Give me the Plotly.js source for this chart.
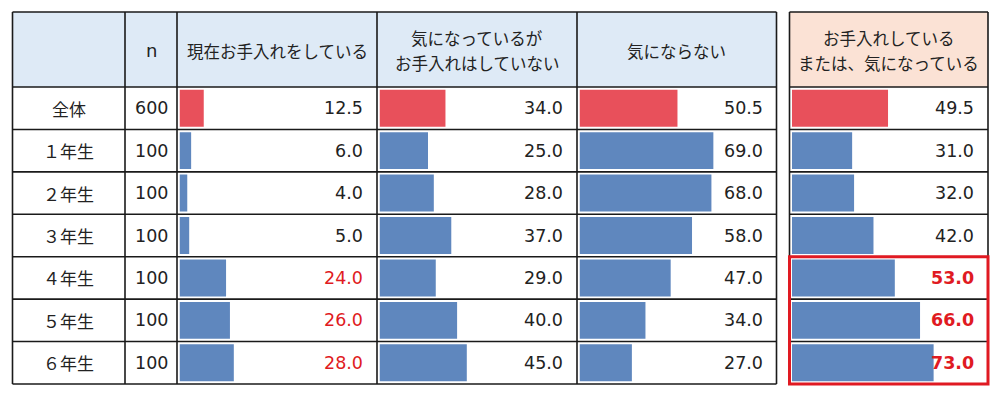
<!DOCTYPE html>
<html>
<head>
<meta charset="utf-8">
<script src="https://cdn.plot.ly/plotly-3.0.1.min.js"></script>
<style>html,body{margin:0;padding:0;background:#fff;}#chart{width:1000px;height:395px;}</style>
</head>
<body>
<div id="chart"></div>
<script>
// ---- data ----
const rowLabels = ["全体", "１年生", "２年生", "３年生", "４年生", "５年生", "６年生"];
const nValues = [600, 100, 100, 100, 100, 100, 100];
const headerN = ["n"];
const headerCol1 = ["現在お手入れをしている"];
const headerCol2 = ["気になっているが", "お手入れはしていない"];
const headerCol3 = ["気にならない"];
const headerCol4 = ["お手入れしている", "または、気になっている"];
const currentCare = [12.5, 6.0, 4.0, 5.0, 24.0, 26.0, 28.0];
const concernedNoCare = [34.0, 25.0, 28.0, 37.0, 29.0, 40.0, 45.0];
const notConcerned = [50.5, 69.0, 68.0, 58.0, 47.0, 34.0, 27.0];
const careOrConcerned = [49.5, 31.0, 32.0, 42.0, 53.0, 66.0, 73.0];

// ---- geometry (pixels) ----
const W = 1000, H = 395;
const px = x => x / W;
const py = y => 1 - y / H;
const colEdges = [12.5, 125, 177, 377, 577, 776.5];
const col4 = [789.5, 988];
const yTop = 12, headBottom = 87, yBottom = 384;
const rowH = (yBottom - headBottom) / 7;
const pxPerUnit = 1.94;

const RED_BAR = "#E8505B", BLUE_BAR = "#5F87BE";
const RED_TXT = "#E01A22";
const LINE = "#1a1a1a";
const TXT = "#222";
const JP = "Noto Sans CJK JP, sans-serif";
const NUM = "DejaVu Sans, Noto Sans CJK JP, sans-serif";
const NUM_SIZE = 17.5, HEAD_SIZE = 16.5, ROW_SIZE = 17;

const series = [currentCare, concernedNoCare, notConcerned, careOrConcerned];
const barCols = [
  [colEdges[2], colEdges[3]],
  [colEdges[3], colEdges[4]],
  [colEdges[4], colEdges[5]],
  [col4[0], col4[1]]
];

const layout = {
  width: W, height: H,
  margin: {l: 0, r: 0, t: 0, b: 0},
  paper_bgcolor: "#fff", plot_bgcolor: "rgba(0,0,0,0)",
  showlegend: false,
  barmode: "overlay",
  yaxis: {
    domain: [py(yBottom), py(headBottom)],
    type: "category",
    categoryorder: "array", categoryarray: rowLabels,
    range: [6.5, -0.5],
    showticklabels: false, showgrid: false, zeroline: false, showline: false, fixedrange: true
  },
  shapes: [], annotations: []
};

const traces = [];
barCols.forEach((c, i) => {
  const ax = i === 0 ? "x" : "x" + (i + 1);
  const key = i === 0 ? "xaxis" : "xaxis" + (i + 1);
  const x0 = c[0] + 2.5, x1 = c[1];
  layout[key] = {
    domain: [px(x0), px(x1)],
    range: [0, (x1 - x0) / pxPerUnit],
    anchor: "y",
    showticklabels: false, showgrid: false, zeroline: false, showline: false, fixedrange: true
  };
  traces.push({
    type: "bar", orientation: "h",
    x: series[i], y: rowLabels,
    xaxis: ax, yaxis: "y",
    width: 0.87,
    marker: {color: series[i].map((v, r) => r === 0 ? RED_BAR : BLUE_BAR), line: {width: 0}},
    hoverinfo: "skip"
  });
  series[i].forEach((v, r) => {
    let color = TXT, txt = v.toFixed(1);
    if (r >= 4 && i === 0) color = RED_TXT;
    if (r >= 4 && i === 3) { color = RED_TXT; txt = "<b>" + txt + "</b>"; }
    layout.annotations.push({
      xref: "paper", yref: "y", x: px(c[1] - 12), y: rowLabels[r],
      xanchor: "right", yanchor: "middle", showarrow: false,
      text: txt, font: {family: NUM, size: NUM_SIZE, color: color}
    });
  });
});

// backgrounds
layout.shapes.push({type: "rect", xref: "paper", yref: "paper", layer: "below",
  x0: px(colEdges[0]), x1: px(colEdges[5]), y0: py(headBottom), y1: py(yTop),
  fillcolor: "#DEEAF6", line: {width: 0}});
layout.shapes.push({type: "rect", xref: "paper", yref: "paper", layer: "below",
  x0: px(col4[0]), x1: px(col4[1]), y0: py(headBottom), y1: py(yTop),
  fillcolor: "#FBE2D5", line: {width: 0}});

function hline(x0, x1, y, color, w) {
  layout.shapes.push({type: "line", xref: "paper", yref: "paper", layer: "above",
    x0: px(x0), x1: px(x1), y0: py(y), y1: py(y), line: {color: color, width: w}});
}
function vline(x, y0, y1, color, w) {
  layout.shapes.push({type: "line", xref: "paper", yref: "paper", layer: "above",
    x0: px(x), x1: px(x), y0: py(y0), y1: py(y1), line: {color: color, width: w}});
}
for (let r = 0; r <= 7; r++) hline(colEdges[0], colEdges[5], headBottom + r * rowH, LINE, 1.6);
hline(colEdges[0], colEdges[5], yTop, LINE, 1.6);
colEdges.forEach(x => vline(x, yTop, yBottom, LINE, 1.6));
hline(col4[0], col4[1], yTop, LINE, 1.6);
for (let r = 0; r <= 7; r++) hline(col4[0], col4[1], headBottom + r * rowH, LINE, 1.6);
vline(col4[0], yTop, yBottom, LINE, 1.6);
vline(col4[1], yTop, yBottom, LINE, 1.6);
layout.shapes.push({type: "rect", xref: "paper", yref: "paper", layer: "above",
  x0: px(col4[0]), x1: px(col4[1]), y0: py(yBottom), y1: py(headBottom + 4 * rowH),
  fillcolor: "rgba(0,0,0,0)", line: {color: RED_TXT, width: 3}});

function headText(lines, cx, family, size) {
  const cy = (yTop + headBottom) / 2 + 1;
  const gap = 26;
  lines.forEach((t, k) => {
    const y = cy + (k - (lines.length - 1) / 2) * gap;
    layout.annotations.push({xref: "paper", yref: "paper", x: px(cx), y: py(y),
      xanchor: "center", yanchor: "middle", showarrow: false,
      text: t, font: {family: family, size: size, color: TXT}});
  });
}
headText(headerN, (colEdges[1] + colEdges[2]) / 2, NUM, 18);
headText(headerCol1, (colEdges[2] + colEdges[3]) / 2, JP, HEAD_SIZE);
headText(headerCol2, (colEdges[3] + colEdges[4]) / 2, JP, HEAD_SIZE);
headText(headerCol3, (colEdges[4] + colEdges[5]) / 2, JP, HEAD_SIZE);
headText(headerCol4, (col4[0] + col4[1]) / 2, JP, HEAD_SIZE);

rowLabels.forEach((lab, r) => {
  layout.annotations.push({xref: "paper", yref: "y", x: px((colEdges[0] + colEdges[1]) / 2), y: lab,
    xanchor: "center", yanchor: "middle", showarrow: false,
    text: lab, font: {family: JP, size: ROW_SIZE, color: TXT}});
  layout.annotations.push({xref: "paper", yref: "y", x: px((colEdges[1] + colEdges[2]) / 2), y: lab,
    xanchor: "center", yanchor: "middle", showarrow: false,
    text: String(nValues[r]), font: {family: NUM, size: NUM_SIZE, color: TXT}});
});

Plotly.newPlot("chart", traces, layout, {displayModeBar: false, staticPlot: true});
</script>
</body>
</html>
